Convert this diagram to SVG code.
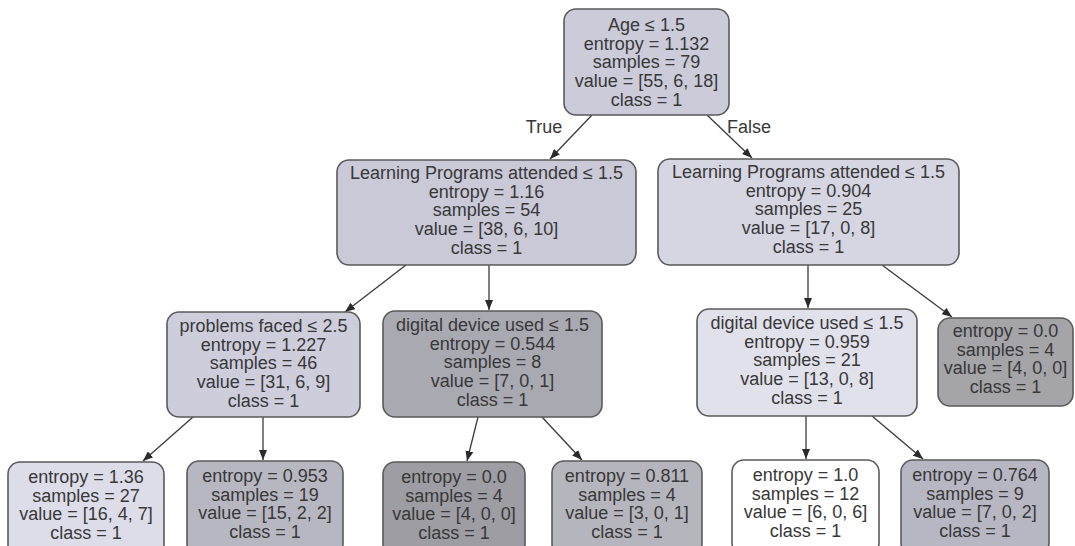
<svg xmlns="http://www.w3.org/2000/svg" width="1075" height="546" viewBox="0 0 1075 546">
<defs>
<marker id="ah" markerWidth="10" markerHeight="8" refX="10" refY="4" orient="auto" markerUnits="userSpaceOnUse">
<path d="M0,0 L10,4 L0,8 Z" fill="#2a2a2a"/>
</marker>
<style>
.n rect{stroke:#5a5a5a;stroke-width:1.6}
.n text{font-family:"Liberation Sans",Arial,sans-serif;font-size:18px;fill:#383838;text-anchor:middle}
.e line{stroke:#3a3a3a;stroke-width:1.3;marker-end:url(#ah)}
.lbl{font-family:"Liberation Sans",Arial,sans-serif;font-size:18px;fill:#383838;text-anchor:middle}
</style>
</defs>
<rect width="1075" height="546" fill="#ffffff"/>
<g id="edges" class="e">
<line x1="592" y1="115" x2="550" y2="159"/>
<line x1="707" y1="115" x2="752" y2="158"/>
<line x1="406" y1="265" x2="345" y2="312"/>
<line x1="489" y1="265" x2="489" y2="310"/>
<line x1="808" y1="265" x2="808" y2="308"/>
<line x1="882" y1="265" x2="952" y2="317"/>
<line x1="193" y1="417" x2="143" y2="461"/>
<line x1="263" y1="417" x2="263" y2="460"/>
<line x1="478" y1="417" x2="467" y2="461"/>
<line x1="542" y1="417" x2="582" y2="460"/>
<line x1="806" y1="416" x2="806" y2="459"/>
<line x1="872" y1="416" x2="923" y2="459"/>
</g>
<text class="lbl" x="544" y="133">True</text>
<text class="lbl" x="749" y="133">False</text>
<g id="n0" class="n">
<rect x="564" y="9" width="165" height="106" rx="12" fill="#cbcbd9"/>
<text x="646.5" y="31">Age ≤ 1.5</text>
<text x="646.5" y="49.7">entropy = 1.132</text>
<text x="646.5" y="68.4">samples = 79</text>
<text x="646.5" y="87.1">value = [55, 6, 18]</text>
<text x="646.5" y="105.8">class = 1</text>
</g>
<g id="n1" class="n">
<rect x="337" y="160" width="299" height="105" rx="12" fill="#c9c9d7"/>
<text x="486.5" y="179">Learning Programs attended ≤ 1.5</text>
<text x="486.5" y="197.7">entropy = 1.16</text>
<text x="486.5" y="216.4">samples = 54</text>
<text x="486.5" y="235.1">value = [38, 6, 10]</text>
<text x="486.5" y="253.8">class = 1</text>
</g>
<g id="n2" class="n">
<rect x="658" y="159" width="301" height="106" rx="12" fill="#d6d6e2"/>
<text x="808.5" y="178">Learning Programs attended ≤ 1.5</text>
<text x="808.5" y="196.7">entropy = 0.904</text>
<text x="808.5" y="215.4">samples = 25</text>
<text x="808.5" y="234.1">value = [17, 0, 8]</text>
<text x="808.5" y="252.8">class = 1</text>
</g>
<g id="n3" class="n">
<rect x="167" y="312" width="193" height="105" rx="12" fill="#cdcddc"/>
<text x="263.5" y="332">problems faced ≤ 2.5</text>
<text x="263.5" y="350.7">entropy = 1.227</text>
<text x="263.5" y="369.4">samples = 46</text>
<text x="263.5" y="388.1">value = [31, 6, 9]</text>
<text x="263.5" y="406.8">class = 1</text>
</g>
<g id="n4" class="n">
<rect x="383" y="311" width="219" height="106" rx="12" fill="#a9a9b1"/>
<text x="492.5" y="331">digital device used ≤ 1.5</text>
<text x="492.5" y="349.7">entropy = 0.544</text>
<text x="492.5" y="368.4">samples = 8</text>
<text x="492.5" y="387.1">value = [7, 0, 1]</text>
<text x="492.5" y="405.8">class = 1</text>
</g>
<g id="n5" class="n">
<rect x="697" y="309" width="220" height="107" rx="12" fill="#e1e1eb"/>
<text x="807" y="329">digital device used ≤ 1.5</text>
<text x="807" y="347.7">entropy = 0.959</text>
<text x="807" y="366.4">samples = 21</text>
<text x="807" y="385.1">value = [13, 0, 8]</text>
<text x="807" y="403.8">class = 1</text>
</g>
<g id="n6" class="n">
<rect x="938" y="318" width="135" height="88" rx="12" fill="#a4a4a9"/>
<text x="1005.5" y="337">entropy = 0.0</text>
<text x="1005.5" y="355.5">samples = 4</text>
<text x="1005.5" y="374">value = [4, 0, 0]</text>
<text x="1005.5" y="392.5">class = 1</text>
</g>
<g id="n7" class="n">
<rect x="8" y="462" width="156" height="95" rx="12" fill="#dddde9"/>
<text x="86" y="483">entropy = 1.36</text>
<text x="86" y="501.5">samples = 27</text>
<text x="86" y="520">value = [16, 4, 7]</text>
<text x="86" y="538.5">class = 1</text>
</g>
<g id="n8" class="n">
<rect x="187" y="461" width="156" height="95" rx="12" fill="#b7b7c1"/>
<text x="265" y="482">entropy = 0.953</text>
<text x="265" y="500.5">samples = 19</text>
<text x="265" y="519">value = [15, 2, 2]</text>
<text x="265" y="537.5">class = 1</text>
</g>
<g id="n9" class="n">
<rect x="383" y="462" width="142" height="95" rx="12" fill="#9d9da3"/>
<text x="454" y="483">entropy = 0.0</text>
<text x="454" y="501.5">samples = 4</text>
<text x="454" y="520">value = [4, 0, 0]</text>
<text x="454" y="538.5">class = 1</text>
</g>
<g id="n10" class="n">
<rect x="552" y="461" width="150" height="95" rx="12" fill="#b5b5bd"/>
<text x="627" y="482">entropy = 0.811</text>
<text x="627" y="500.5">samples = 4</text>
<text x="627" y="519">value = [3, 0, 1]</text>
<text x="627" y="537.5">class = 1</text>
</g>
<g id="n11" class="n">
<rect x="732" y="460" width="147" height="95" rx="12" fill="#ffffff"/>
<text x="805.5" y="481">entropy = 1.0</text>
<text x="805.5" y="499.5">samples = 12</text>
<text x="805.5" y="518">value = [6, 0, 6]</text>
<text x="805.5" y="536.5">class = 1</text>
</g>
<g id="n12" class="n">
<rect x="901" y="460" width="148" height="95" rx="12" fill="#b7b7c3"/>
<text x="975" y="481">entropy = 0.764</text>
<text x="975" y="499.5">samples = 9</text>
<text x="975" y="518">value = [7, 0, 2]</text>
<text x="975" y="536.5">class = 1</text>
</g>
</svg>
